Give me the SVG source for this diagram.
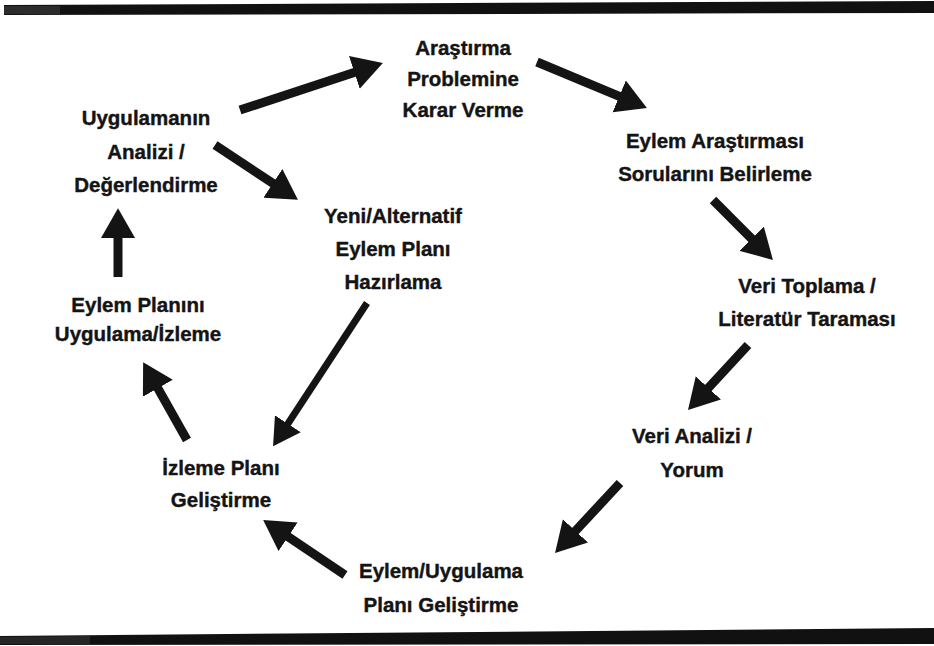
<svg xmlns="http://www.w3.org/2000/svg" width="934" height="646" viewBox="0 0 934 646">
<style>
  .t { font-family: "Liberation Sans", Arial, sans-serif; font-weight: bold; font-size: 20.5px; fill: #141414; stroke: #141414; stroke-width: 0.4px; text-anchor: middle; }
  .c { stroke: #141414; stroke-width: 9; fill: none; stroke-linecap: butt; }
  .thin { stroke-width: 7; }
  .bar { fill: #111; }
</style>
<defs>
  <marker id="ah" viewBox="0 0 28 32" refX="2" refY="16" markerWidth="30" markerHeight="35" markerUnits="userSpaceOnUse" orient="auto">
    <path d="M0,0 L28,16 L0,32 z" fill="#141414"/>
  </marker>
  <marker id="ahs" viewBox="0 0 28 32" refX="2" refY="16" markerWidth="27" markerHeight="31" markerUnits="userSpaceOnUse" orient="auto">
    <path d="M0,0 L28,16 L0,32 z" fill="#141414"/>
  </marker>
</defs>
<rect width="934" height="646" fill="#ffffff"/>
<g id="frame">
  <polygon class="bar" points="4,5 934,1 934,13 4,15"/>
  <polygon points="4,6 60,6 60,14 4,14" fill="#2c2c2c"/>
  <polygon class="bar" points="0,636 934,628 934,644 0,645"/>
  <polygon points="0,637 90,636 90,644 0,644" fill="#262626"/>
</g>
<g id="connectors">
  <line class="c" x1="240" y1="110" x2="356.4" y2="71.7" marker-end="url(#ah)"/>
  <line class="c" x1="537" y1="62" x2="621.2" y2="97.2" marker-end="url(#ah)"/>
  <line class="c" x1="713" y1="200" x2="753.2" y2="240.2" marker-end="url(#ah)"/>
  <line class="c" x1="748" y1="345" x2="706.9" y2="389.5" marker-end="url(#ah)"/>
  <line class="c" x1="620" y1="483" x2="574" y2="532.5" marker-end="url(#ah)"/>
  <line class="c" x1="345" y1="575" x2="286.3" y2="535.6" marker-end="url(#ah)"/>
  <line class="c" x1="187" y1="440" x2="156.8" y2="386.4" marker-end="url(#ah)"/>
  <line class="c" x1="118" y1="277" x2="118" y2="236" marker-end="url(#ah)"/>
  <line class="c" x1="215" y1="145" x2="274.7" y2="184.5" marker-end="url(#ah)"/>
  <line class="c thin" x1="367" y1="303" x2="286.8" y2="425.4" marker-end="url(#ahs)"/>
</g>
<g id="n-arastirma-problemine">
  <text class="t" x="463" y="55">Araştırma</text>
  <text class="t" x="463" y="86">Problemine</text>
  <text class="t" x="463" y="117">Karar Verme</text>
</g>
<g id="n-sorulari-belirleme">
  <text class="t" x="715" y="148">Eylem Araştırması</text>
  <text class="t" x="715" y="181">Sorularını Belirleme</text>
</g>
<g id="n-veri-toplama">
  <text class="t" x="807" y="293">Veri Toplama /</text>
  <text class="t" x="807" y="326">Literatür Taraması</text>
</g>
<g id="n-veri-analizi">
  <text class="t" x="692" y="443">Veri Analizi /</text>
  <text class="t" x="692" y="477">Yorum</text>
</g>
<g id="n-eylem-uygulama-plani">
  <text class="t" x="441" y="578">Eylem/Uygulama</text>
  <text class="t" x="441" y="612">Planı Geliştirme</text>
</g>
<g id="n-izleme-plani">
  <text class="t" x="221" y="475">İzleme Planı</text>
  <text class="t" x="221" y="507">Geliştirme</text>
</g>
<g id="n-eylem-plani-uygulama">
  <text class="t" x="138" y="312">Eylem Planını</text>
  <text class="t" x="138" y="341">Uygulama/İzleme</text>
</g>
<g id="n-uygulama-analizi">
  <text class="t" x="146" y="125">Uygulamanın</text>
  <text class="t" x="146" y="159">Analizi /</text>
  <text class="t" x="146" y="192">Değerlendirme</text>
</g>
<g id="n-yeni-alternatif">
  <text class="t" x="393" y="223">Yeni/Alternatif</text>
  <text class="t" x="393" y="256">Eylem Planı</text>
  <text class="t" x="393" y="289">Hazırlama</text>
</g>
</svg>
